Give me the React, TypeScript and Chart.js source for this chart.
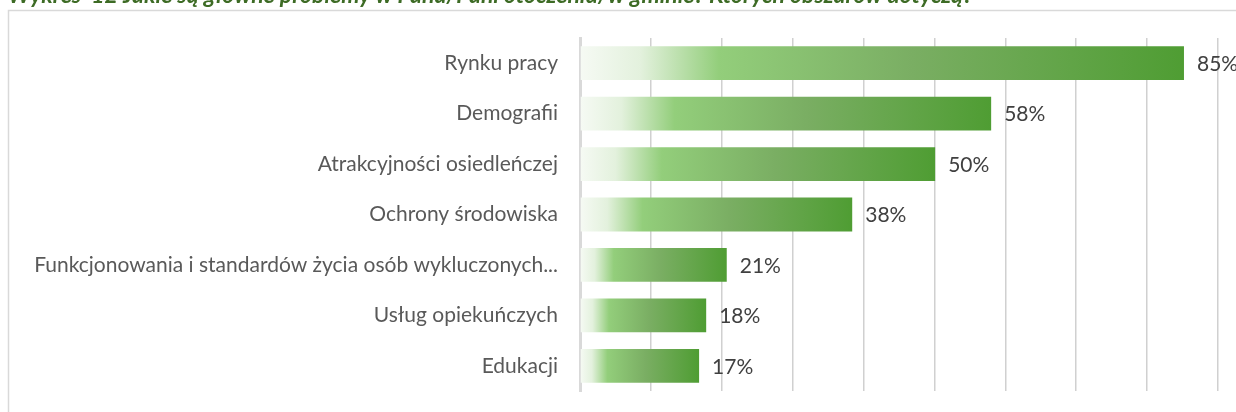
import React, { useEffect, useRef } from "react";
import { Chart, registerables } from "chart.js";

Chart.register(...registerables);

const TITLE = "Wykres  12 Jakie są główne problemy w Pana/Pani otoczeniu/w gminie? Których obszarów dotyczą?";
const categories = [
  "Rynku pracy",
  "Demografii",
  "Atrakcyjności osiedleńczej",
  "Ochrony środowiska",
  "Funkcjonowania i standardów życia osób wykluczonych...",
  "Usług opiekuńczych",
  "Edukacji",
];
const values = [85.2, 58.0, 50.1, 38.4, 20.7, 17.8, 16.8];
const valueLabels = ["85%", "58%", "50%", "38%", "21%", "18%", "17%"];
const xTicks = [0, 10, 20, 30, 40, 50, 60, 70, 80, 90];

const FONT = "Lato, 'Open Sans', sans-serif";

export default function App() {
  const ref = useRef<HTMLCanvasElement>(null);
  useEffect(() => {
    const canvas = ref.current!;
    const decor = {
      id: "decor",
      beforeDraw(chart: any) {
        const c = chart.ctx;
        c.save();
        c.fillStyle = "#ffffff";
        c.fillRect(0, 0, chart.width, chart.height);
        c.strokeStyle = "#d9d9d9";
        c.lineWidth = 1.5;
        c.strokeRect(8.5, 10.5, 1400, 600);
        c.fillStyle = "#3d6b25";
        c.font = `italic bold 23px ${FONT}`;
        c.textBaseline = "alphabetic";
        c.textAlign = "left";
        c.fillText(TITLE, 8, 3);
        c.restore();
      },
      afterDatasetsDraw(chart: any) {
        const c = chart.ctx;
        const meta = chart.getDatasetMeta(0);
        c.save();
        c.fillStyle = "#404040";
        c.font = `21px ${FONT}`;
        c.textBaseline = "middle";
        c.textAlign = "left";
        meta.data.forEach((el: any, i: number) => {
          c.fillText(valueLabels[i], el.x + 13, el.y + 1);
        });
        c.restore();
      },
    };
    const chart = new Chart(canvas, {
      type: "bar",
      data: {
        labels: categories,
        datasets: [
          {
            data: values,
            barPercentage: 0.67,
            categoryPercentage: 1,
            backgroundColor: (ctx: any) => {
              const ch = ctx.chart;
              const xs = ch.scales.x;
              if (!xs || !ch.chartArea) return "#6aab4d";
              const v = ctx.raw as number;
              const x0 = xs.getPixelForValue(0);
              const x1 = xs.getPixelForValue(v);
              if (!isFinite(x0) || !isFinite(x1) || x1 <= x0) return "#6aab4d";
              const g = ch.ctx.createLinearGradient(x0, 0, x1, 0);
              g.addColorStop(0, "#f6faf4");
              g.addColorStop(0.1, "#e3f1dd");
              g.addColorStop(0.23, "#93ce7b");
              g.addColorStop(0.55, "#7aae63");
              g.addColorStop(1, "#4f9d33");
              return g;
            },
            borderWidth: 0,
          },
        ],
      },
      options: {
        indexAxis: "y",
        animation: false,
        responsive: false,
        maintainAspectRatio: false,
        layout: { padding: { top: 38, right: 18, bottom: 21, left: 0 } },
        plugins: { legend: { display: false }, tooltip: { enabled: false }, title: { display: false } },
        scales: {
          x: {
            min: 0,
            max: 90,
            afterBuildTicks: (s: any) => {
              s.ticks = xTicks.map((v) => ({ value: v }));
            },
            afterFit: (s: any) => {
              s.height = 0;
              s.paddingLeft = 0;
              s.paddingRight = 0;
              s.paddingTop = 0;
              s.paddingBottom = 0;
            },
            ticks: { display: false },
            grid: {
              drawTicks: false,
              color: "#d0d0d0",
              lineWidth: 1.5,
            },
            border: { display: false },
          },
          y: {
            afterFit: (s: any) => {
              s.width = 580;
              s.paddingTop = 0;
              s.paddingBottom = 0;
            },
            ticks: {
              color: "#595959",
              font: { family: FONT, size: 21 },
              padding: 22,
            },
            grid: { display: false, drawTicks: false },
            border: { display: true, color: "#d9d9d9", width: 3 },
          },
        },
      },
      plugins: [decor],
    } as any);
    return () => chart.destroy();
  }, []);
  return (
    <div style={{ position: "fixed", left: 0, top: 0, width: 1236, height: 412 }}>
      <canvas ref={ref} width={1236} height={412} style={{ width: 1236, height: 412, display: "block" }} />
    </div>
  );
}
